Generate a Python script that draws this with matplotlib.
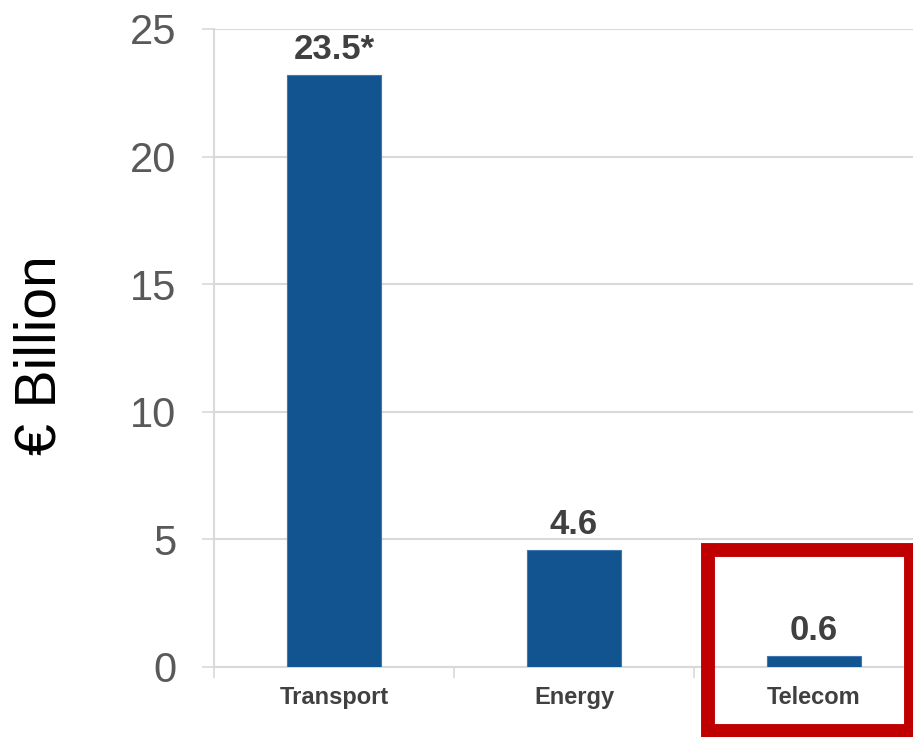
import matplotlib.pyplot as plt
from matplotlib.patches import Rectangle

plt.rcParams['font.family'] = ['Liberation Sans', 'DejaVu Sans']

categories = ["Transport", "Energy", "Telecom"]
values = [23.2, 4.6, 0.45]
labels = ["23.5*", "4.6", "0.6"]
yticks = [0, 5, 10, 15, 20, 25]

W, H = 913, 737
fig = plt.figure(figsize=(W / 100, H / 100), dpi=100)
# axes: x from 214px, y=0 at 667px, y=25 at 29px
ax = fig.add_axes([214 / W, (H - 667) / H, 1 - 214 / W, (667 - 29) / H])

x = range(len(categories))
bars = ax.bar(x, values, width=0.39, color="#11548F", edgecolor="#3F78B0",
              linewidth=0.8, zorder=3)

for b, lab in zip(bars, labels):
    ax.text(b.get_x() + b.get_width() / 2, b.get_height() + 0.35, lab,
            ha="center", va="bottom", fontsize=25, fontweight="bold",
            color="#404040")

ax.set_xlim(-0.5, -0.5 + (W - 214) / 240)
ax.set_ylim(0, 25)
ax.set_yticks(yticks)
ax.set_yticklabels([str(v) for v in yticks], fontsize=30, color="#595959")
ax.yaxis.grid(True, color="#D9D9D9", linewidth=1.5, zorder=0)
ax.tick_params(axis="y", length=9, width=1.2, color="#D9D9D9", pad=18)

# category labels at bar centres, tick marks at category boundaries
ax.set_xticks([-0.5, 0.5, 1.5], minor=False)
ax.set_xticklabels([])
ax.tick_params(axis="x", length=8, width=1.2, color="#D9D9D9")
for i, c in enumerate(categories):
    ax.text(i, -0.75, c, ha="center", va="top", fontsize=17,
            fontweight="bold", color="#404040")

for s in ["top", "right"]:
    ax.spines[s].set_visible(False)
for s in ["left", "bottom"]:
    ax.spines[s].set_color("#D9D9D9")
    ax.spines[s].set_linewidth(1.5)

fig.text(41 / W, 1 - 355 / H, "€ Billion", rotation=90, ha="center",
         va="center", fontsize=41, color="black")

# red highlight box around Telecom
fig.patches.append(Rectangle((708 / W, (H - 731) / H), 203 / W, 181 / H,
                             transform=fig.transFigure, fill=False,
                             edgecolor="#C00000", linewidth=10, zorder=5))

fig.savefig("out.png", dpi=100)
